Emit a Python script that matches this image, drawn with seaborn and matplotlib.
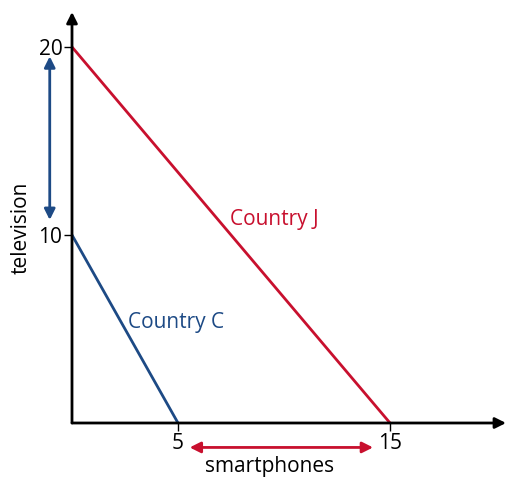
import pandas as pd
import matplotlib.pyplot as plt
import seaborn as sns

# data: production possibilities (smartphones, television)
country = ["Country J", "Country J", "Country C", "Country C"]
smartphones = [0, 15, 0, 5]
television = [20, 0, 10, 0]
xticks = [5, 15]
yticks = [10, 20]

df = pd.DataFrame({"country": country, "smartphones": smartphones, "television": television})

sns.set_style("white")
plt.rcParams['font.family'] = ['Open Sans', 'DejaVu Sans']

red = '#c8102e'
blue = '#1d4a85'

fig = plt.figure(figsize=(5.06, 4.79), dpi=100)
ax = fig.add_axes([72 / 506, 56 / 479, 434 / 506, 411 / 479])

sns.lineplot(data=df, x="smartphones", y="television", hue="country",
             palette={"Country J": red, "Country C": blue}, linewidth=2,
             legend=False, ax=ax)

ax.set_xlim(0, 20.47)
ax.set_ylim(0, 21.86)
for s in ax.spines.values():
    s.set_visible(False)

# axes with arrow heads
ax.annotate('', xy=(1.0, 0), xytext=(0, 0), xycoords='axes fraction',
            arrowprops=dict(arrowstyle='-|>', color='black', lw=2, mutation_scale=16,
                            shrinkA=0, shrinkB=0))
ax.annotate('', xy=(0, 1.0), xytext=(0, 0), xycoords='axes fraction',
            arrowprops=dict(arrowstyle='-|>', color='black', lw=2, mutation_scale=16,
                            shrinkA=0, shrinkB=0))

ax.set_xticks(xticks)
ax.set_yticks(yticks)
ax.tick_params(axis='both', length=6, width=1, color='black', labelsize=15,
               labelcolor='black', direction='out', pad=1, bottom=True, left=True)
ax.set_xlabel('smartphones', fontsize=15, color='black')
ax.set_ylabel('television', fontsize=15, color='black')
ax.xaxis.set_label_coords(0.456, -0.107)
ax.yaxis.set_label_coords(-0.118, 0.475)
ax.xaxis.label.set_va('center')
ax.yaxis.label.set_va('center')

ax.text(7.45, 10.85, 'Country J', color=red, fontsize=15, ha='left', va='center')
ax.text(2.64, 5.35, 'Country C', color=blue, fontsize=15, ha='left', va='center')

# double-headed arrows showing the differences
ax.annotate('', xy=(5.55, -1.3), xytext=(14.2, -1.3), xycoords='data',
            annotation_clip=False,
            arrowprops=dict(arrowstyle='<|-|>', color=red, lw=2, mutation_scale=16,
                            shrinkA=0, shrinkB=0))
ax.annotate('', xy=(-1.05, 19.5), xytext=(-1.05, 10.8), xycoords='data',
            annotation_clip=False,
            arrowprops=dict(arrowstyle='<|-|>', color=blue, lw=2, mutation_scale=16,
                            shrinkA=0, shrinkB=0))

fig.savefig('out.png', dpi=100)
